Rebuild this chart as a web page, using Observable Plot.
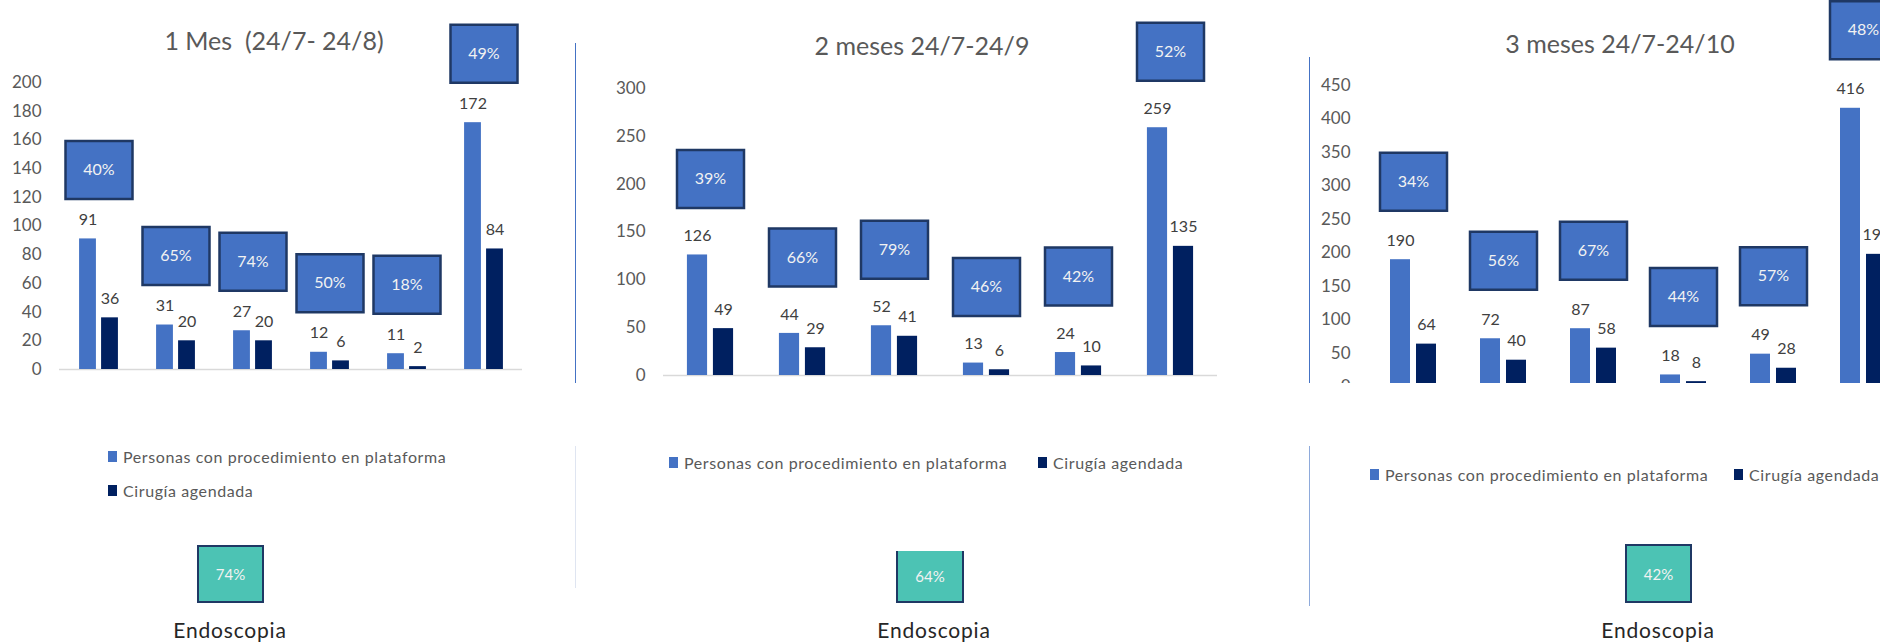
<!DOCTYPE html>
<html>
<head>
<meta charset="utf-8">
<script src="https://cdn.jsdelivr.net/npm/d3@7"></script>
<script src="https://cdn.jsdelivr.net/npm/@observablehq/plot@0.6"></script>
<style>
  html, body { margin: 0; padding: 0; background: #fff; }
  #root { position: relative; width: 1880px; height: 642px; overflow: hidden; background: #fff; font-family: Lato, "Open Sans", sans-serif; }
  .abs { position: absolute; }
  .title { color: #595959; font-size: 25px; white-space: pre; transform: translate(-50%, -50%); }
  .leg { color: #595959; font-size: 16px; white-space: pre; transform: translateY(-50%); letter-spacing: 0.6px; }
  .sw { width: 9px; height: 11px; }
  .teal { background: #4CC3B4; box-sizing: border-box; border: 2px solid #1f3864; color: #f2f2f2; font-size: 15px; display: flex; align-items: center; justify-content: center; }
  .endo { color: #262626; font-size: 21px; letter-spacing: 0.8px; transform: translate(-50%, -50%); white-space: pre; }
  .div { width: 1px; }
</style>
</head>
<body>
<div id="root"></div>
<script>
// ---------- data ----------
const groups = ["G1", "G2", "G3", "G4", "G5", "G6"];
const seriesNames = ["Personas con procedimiento en plataforma", "Cirugía agendada"];
const titles = ["1 Mes  (24/7- 24/8)", "2 meses 24/7-24/9", "3 meses 24/7-24/10"];

const personas1 = [91, 31, 27, 12, 11, 172];
const cirugia1  = [36, 20, 20, 6, 2, 84];
const pct1      = ["40%", "65%", "74%", "50%", "18%", "49%"];

const personas2 = [126, 44, 52, 13, 24, 259];
const cirugia2  = [49, 29, 41, 6, 10, 135];
const pct2      = ["39%", "66%", "79%", "46%", "42%", "52%"];

const personas3 = [190, 72, 87, 18, 49, 416];
const cirugia3  = [64, 40, 58, 8, 28, 198];
const pct3      = ["34%", "56%", "67%", "44%", "57%", "48%"];

const yMax  = [200, 300, 450];
const yStep = [20, 50, 50];

const endoscopiaPct = ["74%", "64%", "42%"];
const endoscopiaLabel = "Endoscopia";

// ---------- styles ----------
const colLight = "#4472C4";
const colDark = "#002060";
const boxStroke = "#1F3864";

const root = document.getElementById("root");

function el(cls, css, text) {
  const d = document.createElement("div");
  d.className = "abs " + cls;
  Object.assign(d.style, css);
  if (text != null) d.textContent = text;
  root.appendChild(d);
  return d;
}

const rectSymbol = {
  draw(context) {
    context.moveTo(-33.5, -29);
    context.lineTo(33.5, -29);
    context.lineTo(33.5, 29);
    context.lineTo(-33.5, 29);
    context.closePath();
  }
};

// layout per panel
const layouts = [
  {left: 0,    width: 576, height: 380, ml: 59, mr: 54,  y0: 369,   yTop: 82, barW: 17,   gap: 5,   boxOff: 69, clip: null},
  {left: 576,  width: 733, height: 385, ml: 87, mr: 92,  y0: 375,   yTop: 88, barW: 20.5, gap: 5.5, boxOff: 76, clip: null},
  {left: 1309, width: 600, height: 390, ml: 59, mr: 1,   y0: 386.5, yTop: 85, barW: 20,   gap: 6,   boxOff: 78, clip: 383}
];

const panels = [
  [personas1, cirugia1, pct1],
  [personas2, cirugia2, pct2],
  [personas3, cirugia3, pct3]
];

panels.forEach(([pers, cir, pct], i) => {
  const L = layouts[i];
  const bw = (L.width - L.ml - L.mr) / groups.length;
  const light = groups.map((g, j) => ({g, v: pers[j], s: seriesNames[0]}));
  const dark = groups.map((g, j) => ({g, v: cir[j], s: seriesNames[1]}));
  const boxes = groups.map((g, j) => ({g, v: Math.max(pers[j], cir[j]), p: pct[j]}));
  const off = L.gap / 2 + L.barW / 2;

  const chart = Plot.plot({
    width: L.width,
    height: L.height,
    marginLeft: L.ml,
    marginRight: L.mr,
    marginTop: L.yTop,
    marginBottom: L.height - L.y0,
    style: {color: "#595959", fontFamily: "Lato, 'Open Sans', sans-serif", background: "transparent", overflow: "visible"},
    x: {domain: groups, padding: 0, axis: null},
    y: {domain: [0, yMax[i]], axis: null},
    marks: [
      Plot.axisY({ticks: d3.range(0, yMax[i] + 1, yStep[i]), tickSize: 0, tickPadding: 18, fontSize: 17, fill: "#595959", label: null}),
      Plot.ruleY([0], {stroke: "#d9d9d9", strokeWidth: 1.5}),
      Plot.barY(light, {x: "g", y: "v", fill: colLight, insetLeft: bw / 2 - L.gap / 2 - L.barW, insetRight: bw / 2 + L.gap / 2}),
      Plot.barY(dark, {x: "g", y: "v", fill: colDark, insetLeft: bw / 2 + L.gap / 2, insetRight: bw / 2 - L.gap / 2 - L.barW}),
      Plot.text(light, {x: "g", y: "v", text: "v", dx: -off, dy: -19, fill: "#404040", fontSize: 16}),
      Plot.text(dark, {x: "g", y: "v", text: "v", dx: off, dy: -19, fill: "#404040", fontSize: 16}),
      Plot.dot(boxes, {x: "g", y: "v", dy: -L.boxOff, symbol: rectSymbol, fill: colLight, stroke: boxStroke, strokeWidth: 2.5}),
      Plot.text(boxes, {x: "g", y: "v", dy: -L.boxOff, text: "p", fill: "#f2f2f2", fontSize: 16})
    ]
  });
  const wrap = el("", {left: L.left + "px", top: "0px", width: L.width + "px", height: (L.clip || L.height) + "px", overflow: L.clip ? "hidden" : "visible"});
  wrap.appendChild(chart);
});

// titles
const titlePos = [[274, 40], [922, 45], [1620, 43]];
titles.forEach((t, i) => el("title", {left: titlePos[i][0] + "px", top: titlePos[i][1] + "px"}, t));

// dividers
el("div", {left: "575px", top: "43px", height: "340px", background: "#4472C4"});
el("div", {left: "575px", top: "446px", height: "142px", background: "#dfe5f1"});
el("div", {left: "1309px", top: "57px", height: "326px", background: "#4472C4"});
el("div", {left: "1309px", top: "446px", height: "160px", background: "#8eaadb"});

// legends
const legendItems = [
  [[108, 456], [108, 490]],
  [[669, 462], [1038, 462]],
  [[1370, 474], [1734, 474]]
];
const seriesColors = [colLight, colDark];
legendItems.forEach(items => {
  items.forEach(([x, y], k) => {
    el("sw", {left: x + "px", top: (y - 5.5) + "px", background: seriesColors[k]});
    el("leg", {left: (x + 15) + "px", top: y + "px"}, seriesNames[k]);
  });
});

// endoscopia boxes
const tealPos = [[197, 545, 67, 58], [896, 551, 68, 52], [1625, 544, 67, 59]];
endoscopiaPct.forEach((p, i) => {
  const [x, y, w, h] = tealPos[i];
  const b = el("teal", {left: x + "px", top: y + "px", width: w + "px", height: h + "px"}, p);
  if (i === 1) b.style.borderTop = "none";
});
const endoPos = [[230, 629], [934, 629], [1658, 629]];
endoPos.forEach(([x, y]) => el("endo", {left: x + "px", top: y + "px"}, endoscopiaLabel));
</script>
</body>
</html>
